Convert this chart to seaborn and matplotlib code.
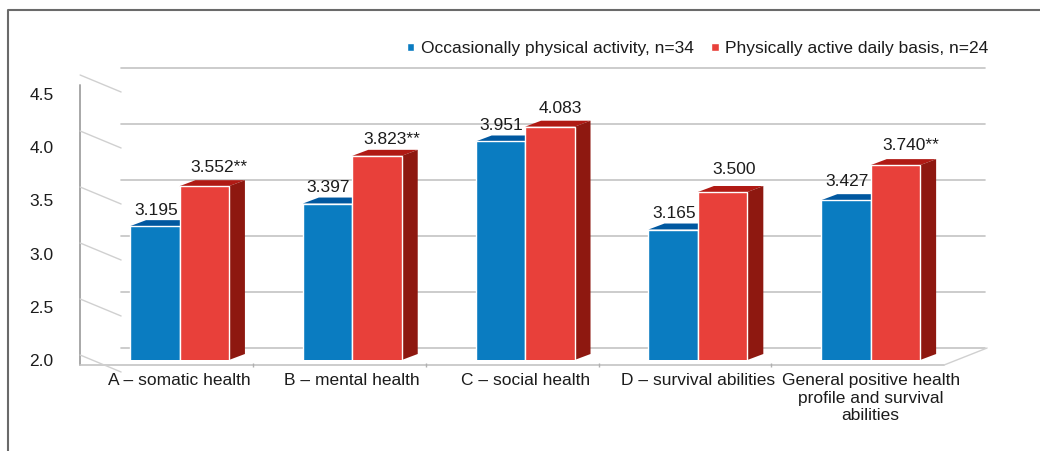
import matplotlib
matplotlib.use('Agg')
import matplotlib.pyplot as plt
import matplotlib.transforms as mtransforms
from matplotlib.lines import Line2D
from matplotlib.patches import Polygon
import pandas as pd
import seaborn as sns

categories = ['A – somatic health', 'B – mental health', 'C – social health',
              'D – survival abilities',
              'General positive health\nprofile and survival\nabilities']
occasional = [3.195, 3.397, 3.951, 3.165, 3.427]
daily = [3.552, 3.823, 4.083, 3.500, 3.740]
occasional_labels = ['3.195', '3.397', '3.951', '3.165', '3.427']
daily_labels = ['3.552**', '3.823**', '4.083', '3.500', '3.740**']
series_names = ['Occasionally physical activity, n=34',
                'Physically active daily basis, n=24']
y_ticks = [2.0, 2.5, 3.0, 3.5, 4.0, 4.5]

W, H = 1040, 451
TEXT = '#1c1c1c'
FRONT = ['#0a7cc1', '#e8403a']
TOP = ['#0058a0', '#b01a14']
SIDE = ['#00508f', '#8e1810']

sns.set_style('white')
plt.rcParams['font.family'] = ['Liberation Sans Narrow', 'Liberation Sans', 'DejaVu Sans']
plt.rcParams['font.size'] = 12.5

df = pd.DataFrame({
    'category': categories * 2,
    'score': occasional + daily,
    'group': [series_names[0]] * 5 + [series_names[1]] * 5,
})

fig = plt.figure(figsize=(W / 100, H / 100), dpi=100)
# axes box is the plane of the bar fronts, the walls are shifted copies of it
ax = fig.add_axes([93.1 / W, 1 - 360 / H, 864 / W, 280 / H])
sns.barplot(data=df, x='category', y='score', hue='group', palette=FRONT,
            width=0.572, gap=0, saturation=1, ax=ax, zorder=3)
ax.set_xlim(-0.5, 4.5)
ax.set_ylim(2.0, 4.5)
ax.set_xlabel('')
ax.set_ylabel('')
sns.despine(ax=ax, left=True, bottom=True)
ax.patch.set_alpha(0)

# printed scale is tighter than the drawn grid
ax.set_yticks([2 + (v - 2) * 0.95 for v in y_ticks], [f'{v:.1f}' for v in y_ticks])
ax.tick_params(axis='y', length=0, pad=28.5, labelcolor=TEXT, labelsize=12.5)
ax.tick_params(axis='x', length=0, pad=9.5, labelcolor=TEXT, labelsize=12.5)

back = mtransforms.offset_copy(ax.transData, fig, x=28, y=12, units='dots')
floor = mtransforms.offset_copy(ax.transData, fig, x=-13, y=-5, units='dots')
px_x = 864 / 5
px_y = 280 / 2.5

# wall grid and the short links back to the front axis
for v in y_ticks:
    ax.plot([-0.5, 4.5], [v, v], transform=back, color='#c4c4c4', lw=1.2,
            clip_on=False, zorder=1)
    x0 = -0.5 + (-13) / px_x
    x1 = -0.5 + 28 / px_x
    link = Line2D([93.1 - 13, 93.1 + 28], [H - 360 + 5 - (v - 2) * -px_y, H - 360 - 12 - (v - 2) * -px_y],
                  color='#d0d0d0', lw=1, transform=None, clip_on=False, zorder=1)
    fig.add_artist(link)

ax.plot([-0.5, -0.5], [2.0, 4.5], transform=floor, color='#a8a8a8', lw=1.4,
        clip_on=False, zorder=2)
ax.plot([-0.5, 4.5], [2.0, 2.0], transform=floor, color='#c4c4c4', lw=1.2,
        clip_on=False, zorder=2)
fig.add_artist(Line2D([93.1 - 13 + 864, 93.1 + 28 + 864 + 2], [H - 365, H - 348],
                      color='#d0d0d0', lw=1, transform=None, zorder=1))
for i in range(1, 5):
    ax.plot([i - 0.5], [2.0], transform=floor, marker='|', ms=3, color='#b0b0b0',
            clip_on=False, zorder=2)

# extruded tops and sides from the seaborn bars
dx = 16 / px_x
dy = 6 / px_y
for k, bars in enumerate(ax.containers):
    for b in bars:
        x0 = b.get_x()
        x1 = x0 + b.get_width()
        y1 = b.get_height()
        ax.add_patch(Polygon([(x0, y1), (x0 + dx, y1 + dy), (x1 + dx, y1 + dy), (x1, y1)],
                             color=TOP[k], lw=0, clip_on=False, zorder=2.5 + k))
        ax.add_patch(Polygon([(x1, 2.0), (x1 + dx, 2.0 + dy), (x1 + dx, y1 + dy), (x1, y1)],
                             color=SIDE[k], lw=0, clip_on=False, zorder=2.5 + k))
        b.set_zorder(3 + k)

# value labels
lift = [[16, 16, 16, 16, 19], [19, 16, 18, 22, 20]]
for k, (bars, texts) in enumerate(zip(ax.containers, [occasional_labels, daily_labels])):
    for j, (b, t) in enumerate(zip(bars, texts)):
        shift = 1 if k == 0 else (15 if '**' in t else 11)
        ax.annotate(t, (b.get_x() + b.get_width() / 2, b.get_height()),
                    xytext=(shift * 0.72, lift[k][j] * 0.72), textcoords='offset points',
                    ha='center', va='center', color=TEXT, fontsize=12.5, zorder=8,
                    annotation_clip=False)

ax.legend(ncols=2, frameon=False, loc='center left',
          bbox_to_anchor=(398 / W, 1 - 49 / H), bbox_transform=fig.transFigure,
          handlelength=0.45, handleheight=0.3, handletextpad=0.35, columnspacing=1.0,
          borderpad=0, labelcolor=TEXT, fontsize=12.5)

# outer frame, only left and top
fig.add_artist(Line2D([7.5 / W, 7.5 / W, 1], [0, 1 - 10 / H, 1 - 10 / H],
                      color='#6a6a6a', lw=1.5, transform=fig.transFigure))

fig.savefig('out.png', dpi=100)
